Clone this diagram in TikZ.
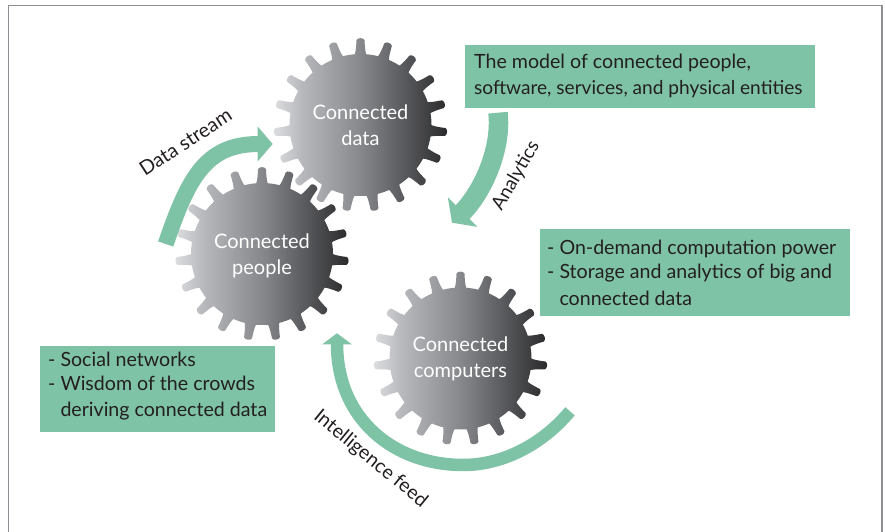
\documentclass[tikz,border=0pt]{standalone}
\usepackage{fontspec}
\setmainfont{Lato}
\usetikzlibrary{arrows.meta}
\definecolor{boxgreen}{HTML}{7FC3A6}
\definecolor{framegray}{HTML}{8E9096}
\definecolor{inktext}{HTML}{231F20}
\definecolor{gearL}{HTML}{DDDEE0}
\definecolor{gearA}{HTML}{B8B9BD}
\definecolor{gearM}{HTML}{87888C}
\definecolor{gearB}{HTML}{5C5D60}
\definecolor{gearR}{HTML}{2A2A2C}
\pgfdeclarehorizontalshading{gearshade}{100bp}{color(0bp)=(gearL); color(25bp)=(gearL); color(33bp)=(gearA); color(50bp)=(gearM); color(61.5bp)=(gearB); color(75bp)=(gearR); color(100bp)=(gearR)}
\newcommand{\gearpath}[1]{%
  \path[shade,shading=gearshade]
    ([shift={(94.6:71)}]#1)
    \foreach \k in {0,...,18}{
      \pgfextra{\pgfmathsetmacro{\a}{90-\k*360/19}}
      .. controls ([shift={(\a+3.6:74)}]#1) and ([shift={(\a+3.0:80)}]#1) .. ([shift={(\a+2.7:85)}]#1)
      .. controls ([shift={(\a+2.0:87.6)}]#1) and ([shift={(\a-2.0:87.6)}]#1) .. ([shift={(\a-2.7:85)}]#1)
      .. controls ([shift={(\a-3.0:80)}]#1) and ([shift={(\a-3.6:74)}]#1) .. ([shift={(\a-4.6:71)}]#1)
      arc[start angle=\a-4.6,delta angle=-9.747,radius=71]
    } -- cycle;
}
\tikzset{
  x=1pt,y=1pt,
  gearlabel/.style={text=white,font=\fontsize{20}{26}\selectfont,align=center,inner sep=0pt},
  infobox/.style={fill=boxgreen,anchor=north west,inner sep=0pt},
  infotext/.style={text=inktext,font=\fontsize{19.6}{26}\selectfont,align=left,anchor=west,inner sep=0pt},
  flow/.style={draw=boxgreen},
  flowlabel/.style={text=inktext,inner sep=0pt},
}
\begin{document}
\begin{tikzpicture}
\useasboundingbox (0,0) rectangle (885,532);
\fill[white] (0,0) rectangle (885,532);
\draw[framegray,line width=1.4pt] (8.5,0) -- (8.5,526.3) -- (882,526.3) -- (882,0);
\coordinate (cd) at (360.5,407);
\coordinate (cp) at (262,278);
\coordinate (cc) at (460.5,173.5);
\gearpath{cd}
\gearpath{cp}
\gearpath{cc}
\node[gearlabel] (ndata) at (cd) {Connected\\data};
\node[gearlabel] (npeople) at (262,276.5) {Connected\\people};
\node[gearlabel] (ncomp) at (cc) {Connected\\computers};
\node[infobox,minimum width=350pt,minimum height=63pt] (b1) at (465,487) {};
\node[infobox,minimum width=310pt,minimum height=87pt] (b2) at (540,303) {};
\node[infobox,minimum width=235pt,minimum height=85.7pt] (b3) at (40,186) {};
\node[infotext] (t1) at (474,456) {The model of connected people,\\{\fontsize{19.1}{26}\selectfont software, services, and physical entities}};
\node[infotext] (t2) at (547,259.5) {- On-demand computation power\\[-2pt]- Storage and analytics of big and\\[1pt]\phantom{- }connected data};
\node[infotext] (t3) at (48,146) {- Social networks\\[-1.5pt]- Wisdom of the crowds\\\phantom{- }deriving connected data};
\coordinate (a1s) at (165.7,288);
\coordinate (a1c1) at (188,353);
\coordinate (a1c2) at (205,388);
\coordinate (a1e) at (272.7,388);
\draw[flow,line width=16pt,-{Triangle[width=34pt,length=15pt]}] (a1s) .. controls (a1c1) and (a1c2) .. (a1e);
\coordinate (a2s) at (498,419.3);
\coordinate (a2c1) at (502,382);
\coordinate (a2c2) at (482,339.3);
\coordinate (a2e) at (452,309.3);
\draw[flow,line width=19.5pt,-{Triangle[width=41pt,length=15pt]}] (a2s) .. controls (a2c1) and (a2c2) .. (a2e);
\coordinate (a3s) at (570,120.7);
\coordinate (a3c1) at (540,85);
\coordinate (a3c2) at (500,67);
\coordinate (a3m) at (463,67);
\coordinate (a3c3) at (395,67);
\coordinate (a3c4) at (337,112);
\coordinate (a3e) at (337,198.7);
\draw[flow,line width=12.5pt,-{Triangle[width=29pt,length=11pt]}] (a3s) .. controls (a3c1) and (a3c2) .. (a3m) .. controls (a3c3) and (a3c4) .. (a3e);
\node[flowlabel,font=\fontsize{19.8}{22}\selectfont,rotate=33] (l1) at (185.5,390) {Data stream};
\node[flowlabel,font=\fontsize{19}{22}\selectfont,rotate=60] (l2) at (516,356) {Analytics};
\node[flowlabel,font=\fontsize{19.5}{22}\selectfont,rotate=-39.5] (l3) at (370.5,73) {Intelligence feed};
\end{tikzpicture}
\end{document}
